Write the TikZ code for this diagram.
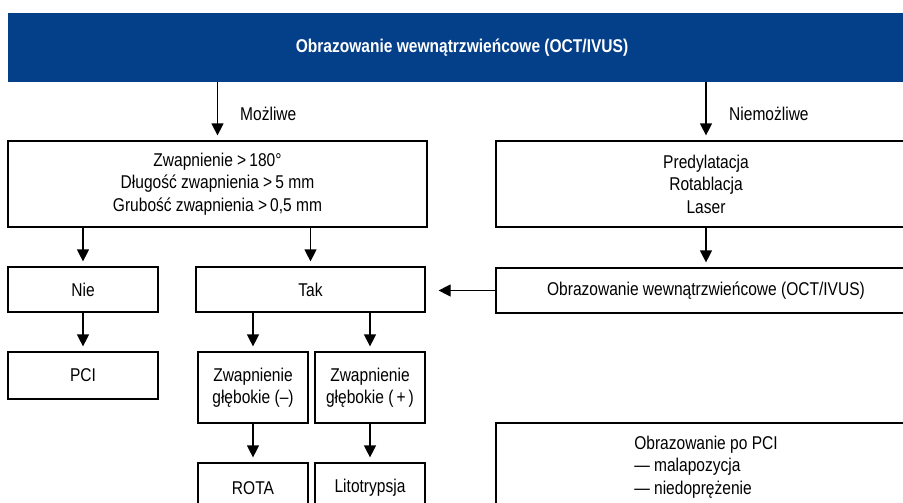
\documentclass[tikz,border=0pt]{standalone}
\usepackage{fontspec}
\setmainfont{Liberation Sans}[FakeStretch=0.84]
\usepackage{tikz}
\usetikzlibrary{arrows.meta,positioning}
\definecolor{headblue}{RGB}{4,63,137}

\begin{document}
\begin{tikzpicture}[
  x=1pt,y=-1pt,
  box/.style={draw,line width=1.2pt,align=center,inner sep=0pt,font=\fontsize{18.5}{22.5}\selectfont},
  flow/.style={-{Triangle[length=12pt,width=12pt]},line width=1.2pt,shorten >=5pt},
  lbl/.style={anchor=west,inner sep=0pt,font=\fontsize{18.5}{22.5}\selectfont}
]
  \useasboundingbox (0,0) rectangle (903,503);
  \clip (0,0) rectangle (903,503);

  \node[fill=headblue,text=white,inner sep=0pt,minimum width=908pt,minimum height=69pt,
    font=\bfseries\fontsize{18.5}{22.5}\selectfont] (head) at (462,47.5) {Obrazowanie wewnątrzwieńcowe (OCT/IVUS)};

  \node[box,minimum width=419pt,minimum height=86pt] (calc) at (217.5,184) {Zwapnienie >\,180°\\Długość zwapnienia >\,5 mm\\Grubość zwapnienia >\,0,5 mm};
  \node[box,minimum width=420pt,minimum height=86pt] (pre) at (706,184) {Predylatacja\\Rotablacja\\Laser};

  \node[box,minimum width=150pt,minimum height=45pt] (nie) at (83,289.5) {Nie};
  \node[box,minimum width=229pt,minimum height=45pt] (tak) at (310.5,289.5) {Tak};
  \node[box,minimum width=420pt,minimum height=45pt] (oct) at (706,290.5) {Obrazowanie wewnątrzwieńcowe (OCT/IVUS)};

  \node[box,minimum width=150pt,minimum height=47pt] (pci) at (83,375.5) {PCI};
  \node[box,minimum width=110pt,minimum height=71pt] (deepneg) at (253,387.5) {Zwapnienie\\głębokie (–)};
  \node[box,minimum width=110pt,minimum height=71pt] (deeppos) at (370,387.5) {Zwapnienie\\głębokie (\,+\,)};

  \node[box,minimum width=110pt,minimum height=50pt] (rota) at (253,488) {ROTA};
  \node[box,minimum width=110pt,minimum height=50pt] (lito) at (370,488) {Litotrypsja};
  \node[box,align=left,minimum width=420pt,minimum height=88pt] (post) at (706,467) {Obrazowanie po PCI\\— malapozycja\\— niedoprężenie};

  \node[lbl] (possible) at (240,114) {Możliwe};
  \node[lbl] (impossible) at (729,114) {Niemożliwe};

  \draw[flow] (head.south -| calc.north) -- (calc.north);
  \draw[flow] (head.south -| pre.north) -- (pre.north);
  \draw[flow] (calc.south -| nie.north) -- (nie.north);
  \draw[flow] (calc.south -| tak.north) -- (tak.north);
  \draw[flow] (pre) -- (oct);
  \draw[flow,shorten >=13pt] (oct.west) -- (oct.west -| tak.east);
  \draw[flow] (nie) -- (pci);
  \draw[flow] (tak.south -| deepneg.north) -- (deepneg.north);
  \draw[flow] (tak.south -| deeppos.north) -- (deeppos.north);
  \draw[flow] (deepneg) -- (rota);
  \draw[flow] (deeppos) -- (lito);
\end{tikzpicture}
\end{document}
